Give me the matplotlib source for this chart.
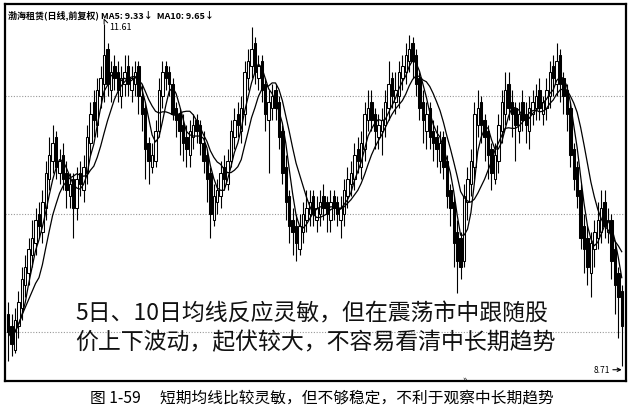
import numpy as np
import pandas as pd
import matplotlib
matplotlib.use('Agg')
import matplotlib.pyplot as plt

plt.rcParams['font.family'] = ['Noto Sans CJK SC', 'DejaVu Sans']

# daily K-line (about 180 bars)
opens = [9.15, 9.05, 8.85, 9.05, 9.20, 9.40, 9.50, 9.65, 9.75, 10.00,
         9.85, 10.05, 10.30, 10.45, 10.65, 10.35, 10.50, 10.35, 10.15, 10.30,
         10.05, 10.35, 10.20, 10.35, 10.60, 10.95, 10.75, 11.00, 11.10, 11.40,
         11.05, 11.25, 11.20, 11.00, 11.10, 11.25, 11.05, 11.10, 11.25, 11.00,
         10.90, 10.60, 10.40, 10.45, 10.70, 11.00, 11.25, 11.20, 11.10, 10.90,
         10.85, 10.75, 10.65, 10.50, 10.65, 10.80, 10.75, 10.60, 10.50, 10.35,
         9.95, 10.10, 10.15, 10.40, 10.25, 10.45, 10.65, 10.85, 10.70, 10.85,
         11.15, 11.25, 11.45, 11.15, 11.30, 11.10, 10.80, 10.90, 11.05, 10.95,
         10.70, 10.40, 10.15, 9.95, 9.90, 9.70, 9.85, 9.95, 10.00, 10.15,
         9.95, 10.00, 10.15, 10.10, 9.95, 10.15, 10.10, 9.95, 10.00, 10.15,
         10.25, 10.30, 10.55, 10.40, 10.55, 10.80, 10.95, 10.85, 10.65, 10.70,
         10.75, 10.90, 11.15, 10.95, 11.00, 11.15, 11.20, 11.30, 11.45, 11.35,
         11.15, 10.95, 10.70, 10.90, 10.70, 10.65, 10.45, 10.65, 10.45, 10.20,
         10.10, 9.85, 9.80, 9.60, 10.10, 10.25, 10.40, 10.75, 10.95, 10.80,
         10.70, 10.55, 10.30, 10.45, 10.70, 10.85, 11.10, 10.95, 10.90, 10.70,
         10.95, 10.85, 10.70, 10.85, 10.90, 11.05, 10.85, 10.90, 11.00, 11.25,
         11.10, 11.35, 11.15, 11.05, 10.90, 10.55, 10.40, 10.20, 9.90, 9.80,
         9.50, 9.70, 9.80, 9.85, 10.10, 9.85, 9.95, 9.70, 9.50, 9.35]
closes = [9.00, 8.90, 9.10, 9.25, 9.45, 9.55, 9.70, 9.80, 9.95, 9.90,
          10.10, 10.35, 10.50, 10.60, 10.40, 10.45, 10.30, 10.20, 10.25, 10.05,
          10.30, 10.25, 10.40, 10.65, 10.85, 10.80, 11.05, 11.15, 11.35, 11.10,
          11.20, 11.15, 11.05, 11.15, 11.20, 11.10, 11.15, 11.20, 11.00, 10.85,
          10.55, 10.45, 10.50, 10.70, 11.05, 11.20, 11.15, 11.10, 10.85, 10.80,
          10.70, 10.60, 10.55, 10.70, 10.75, 10.70, 10.60, 10.45, 10.30, 10.00,
          10.15, 10.20, 10.35, 10.30, 10.45, 10.70, 10.80, 10.75, 10.90, 11.20,
          11.30, 11.40, 11.20, 11.25, 11.05, 10.85, 10.95, 11.00, 10.90, 10.65,
          10.35, 10.10, 9.90, 9.85, 9.75, 9.90, 10.00, 10.05, 10.10, 10.00,
          10.05, 10.10, 10.05, 10.00, 10.10, 10.05, 10.00, 10.05, 10.20, 10.30,
          10.35, 10.50, 10.45, 10.60, 10.85, 10.90, 10.80, 10.70, 10.75, 10.80,
          10.95, 11.10, 11.00, 11.05, 11.20, 11.25, 11.35, 11.40, 11.30, 11.10,
          10.90, 10.80, 10.85, 10.65, 10.60, 10.55, 10.60, 10.40, 10.15, 10.05,
          9.75, 9.60, 9.55, 10.15, 10.30, 10.45, 10.85, 10.90, 10.75, 10.65,
          10.50, 10.35, 10.50, 10.75, 10.95, 11.05, 10.90, 10.85, 10.75, 10.85,
          10.80, 10.75, 10.90, 10.95, 11.00, 10.90, 10.95, 11.05, 11.20, 11.15,
          11.30, 11.10, 11.00, 10.85, 10.50, 10.30, 10.15, 9.80, 9.70, 9.55,
          9.75, 9.85, 9.95, 10.05, 9.90, 9.95, 9.60, 9.40, 9.30, 9.05]
highs = [9.25, 9.15, 9.20, 9.35, 9.55, 9.65, 9.80, 9.95, 10.05, 10.10,
         10.20, 10.45, 10.65, 10.75, 10.70, 10.55, 10.60, 10.45, 10.35, 10.35,
         10.40, 10.45, 10.50, 10.75, 10.95, 11.05, 11.15, 11.25, 11.61, 11.45,
         11.30, 11.35, 11.30, 11.25, 11.35, 11.35, 11.25, 11.30, 11.30, 11.10,
         10.95, 10.65, 10.60, 10.80, 11.15, 11.30, 11.30, 11.25, 11.15, 10.95,
         10.90, 10.85, 10.75, 10.80, 10.85, 10.85, 10.80, 10.70, 10.55, 10.40,
         10.25, 10.30, 10.45, 10.50, 10.55, 10.80, 10.90, 10.95, 11.00, 11.30,
         11.40, 11.58, 11.50, 11.35, 11.35, 11.15, 11.05, 11.10, 11.10, 11.00,
         10.75, 10.50, 10.20, 10.05, 10.00, 10.00, 10.10, 10.20, 10.20, 10.20,
         10.15, 10.20, 10.25, 10.15, 10.20, 10.20, 10.15, 10.15, 10.30, 10.40,
         10.45, 10.60, 10.65, 10.70, 10.95, 11.05, 11.05, 10.90, 10.85, 10.90,
         11.05, 11.30, 11.20, 11.20, 11.30, 11.35, 11.45, 11.52, 11.50, 11.40,
         11.20, 11.05, 10.95, 10.95, 10.80, 10.75, 10.70, 10.70, 10.50, 10.25,
         10.15, 9.95, 9.85, 10.25, 10.40, 10.55, 10.95, 11.05, 11.00, 10.85,
         10.75, 10.60, 10.60, 10.85, 11.05, 11.20, 11.20, 11.05, 10.95, 10.95,
         11.05, 10.95, 11.00, 11.05, 11.10, 11.15, 11.00, 11.15, 11.30, 11.35,
         11.45, 11.40, 11.20, 11.10, 10.95, 10.60, 10.45, 10.25, 10.00, 9.90,
         9.85, 9.95, 10.10, 10.20, 10.20, 10.05, 10.00, 9.75, 9.55, 9.40]
lows = [8.75, 8.80, 8.82, 8.95, 9.10, 9.30, 9.40, 9.55, 9.65, 9.80,
        9.75, 9.95, 10.20, 10.35, 10.30, 10.25, 10.20, 10.05, 10.05, 9.80,
        9.95, 10.15, 10.10, 10.25, 10.50, 10.65, 10.65, 10.90, 10.95, 11.00,
        10.95, 11.05, 10.95, 10.90, 11.00, 11.00, 10.95, 11.00, 10.85, 10.70,
        10.30, 10.25, 10.35, 10.40, 10.65, 10.90, 11.05, 11.00, 10.80, 10.65,
        10.50, 10.45, 10.40, 10.40, 10.55, 10.60, 10.50, 10.35, 10.10, 9.80,
        9.90, 10.00, 10.05, 10.20, 10.20, 10.40, 10.55, 10.65, 10.60, 10.75,
        11.05, 11.15, 11.10, 11.05, 10.95, 10.70, 10.35, 10.80, 10.80, 10.55,
        10.25, 9.95, 9.75, 9.65, 9.60, 9.65, 9.75, 9.85, 9.90, 9.90,
        9.85, 9.90, 9.95, 9.85, 9.85, 9.95, 9.90, 9.80, 9.90, 10.05,
        10.15, 10.20, 10.35, 10.30, 10.45, 10.70, 10.70, 10.55, 10.55, 10.50,
        10.65, 10.80, 10.90, 10.85, 10.90, 11.05, 11.10, 11.20, 11.15, 11.00,
        10.80, 10.60, 10.55, 10.55, 10.45, 10.40, 10.35, 10.30, 10.05, 9.90,
        9.55, 9.33, 9.45, 9.55, 9.95, 10.15, 10.30, 10.65, 10.60, 10.45,
        10.30, 10.20, 10.25, 10.35, 10.60, 10.75, 10.80, 10.65, 10.45, 10.60,
        10.70, 10.60, 10.55, 10.75, 10.80, 10.80, 10.75, 10.80, 10.90, 11.00,
        11.00, 10.95, 10.85, 10.70, 10.40, 10.20, 10.05, 9.70, 9.50, 9.40,
        9.30, 9.55, 9.70, 9.75, 9.80, 9.75, 9.45, 9.15, 8.95, 8.71]

grid_prices = [9, 10, 11]
title_text = '渤海租赁(日线,前复权) MA5: 9.33↓  MA10: 9.65↓'
note_lines = ['5日、10日均线反应灵敏，但在震荡市中跟随股',
              '价上下波动，起伏较大，不容易看清中长期趋势']
caption = '图 1-59\u3000 短期均线比较灵敏，但不够稳定，不利于观察中长期趋势'

df = pd.DataFrame({'open': opens, 'close': closes, 'high': highs, 'low': lows})
df['ma5'] = df['close'].rolling(5, min_periods=1).mean()
df['ma10'] = df['close'].rolling(10, min_periods=1).mean()
x = np.arange(len(df))

fig = plt.figure(figsize=(6.29, 4.14), dpi=100)
ax = fig.add_axes([0.008, 0.078, 0.987, 0.91])

for g in grid_prices:
    ax.axhline(g, color='#999999', lw=0.8, ls=(0, (1, 1.5)), zorder=0)

# wicks then bodies
ax.vlines(x, df['low'], df['high'], color='black', lw=0.8, zorder=2)
up = df['close'] >= df['open']
body_h = (df['close'] - df['open']).abs().clip(lower=0.015)
body_b = df[['open', 'close']].min(axis=1)
ax.bar(x[up], body_h[up], bottom=body_b[up], width=0.7,
       color='white', edgecolor='black', lw=0.75, zorder=3)
ax.bar(x[~up], body_h[~up], bottom=body_b[~up], width=0.7,
       color='black', edgecolor='black', lw=0.75, zorder=3)

ax.plot(x, df['ma5'], color='black', lw=0.9, zorder=4)
ax.plot(x, df['ma10'], color='black', lw=0.9, zorder=4)

ax.set_xlim(-0.9, 180.2)
ax.set_ylim(8.587, 11.779)
ax.set_xticks([])
ax.set_yticks([])
for s in ax.spines.values():
    s.set_linewidth(1.6)

ax.text(0.004, 0.985, title_text, transform=ax.transAxes, ha='left', va='top',
        fontsize=6.5, fontweight='bold')

# highest price marker
imax = int(df['high'].idxmax())
ax.plot([imax, imax, imax + 1.0], [df['high'][imax], df['high'][imax] + 0.04,
        df['high'][imax] + 0.01], color='black', lw=0.7)
ax.text(imax + 1.5, df['high'][imax] - 0.02, '%.2f' % df['high'][imax],
        fontsize=6.5, ha='left', va='center')

# lowest price marker
imin = int(df['low'].idxmin())
ax.annotate('%.2f' % df['low'][imin], xy=(imin, df['low'][imin] - 0.03),
            xytext=(imin - 3.4, df['low'][imin] - 0.03), fontsize=6,
            ha='right', va='center',
            arrowprops=dict(arrowstyle='->', lw=0.8, color='black',
                            shrinkA=0, shrinkB=0))
ax.text(133.2, 8.61, '»', fontsize=6, ha='center', va='center')

ax.text(19.5, 10 - (313 - 214) / 117.5, note_lines[0], fontsize=16.5,
        ha='left', va='center', color='#111111')
ax.text(19.5, 10 - (341 - 214) / 117.5, note_lines[1], fontsize=16.5,
        ha='left', va='center', color='#111111')

fig.text(0.511, 1 - 398 / 414, caption, ha='center', va='center', fontsize=11.3)

fig.savefig('out.png', dpi=100)
